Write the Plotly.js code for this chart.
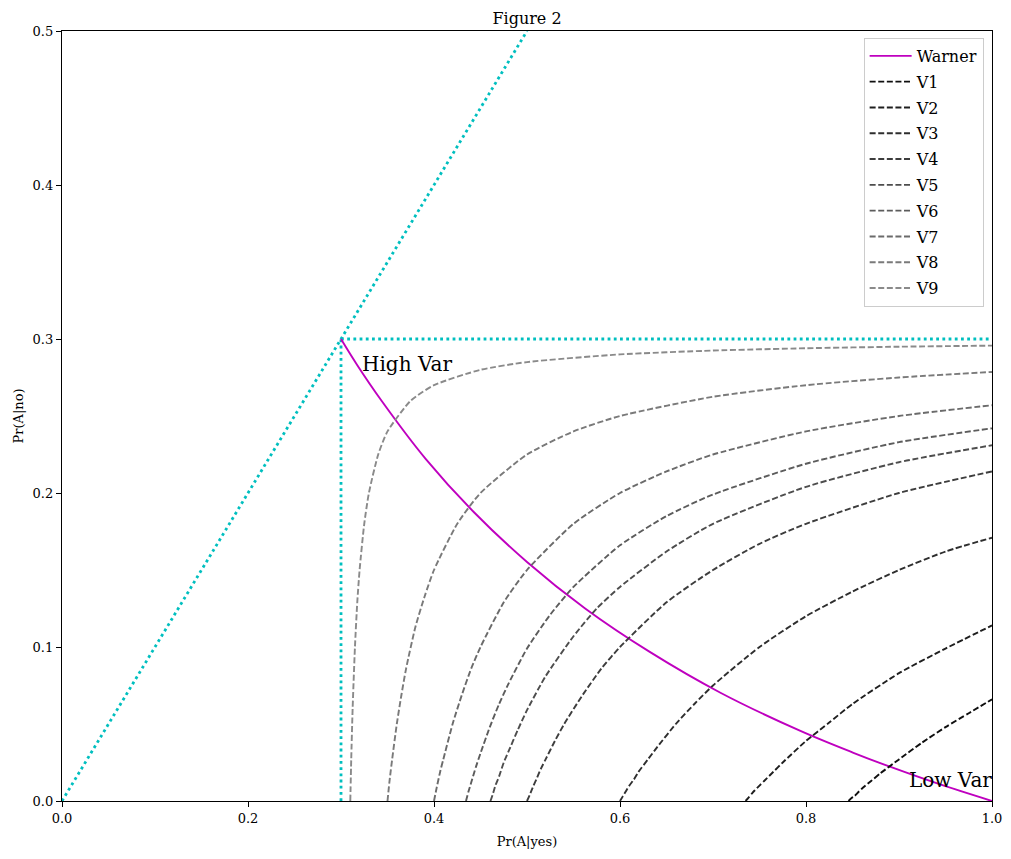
<!DOCTYPE html>
<html>
<head>
<meta charset="utf-8">
<script src="https://cdn.plot.ly/plotly-3.0.1.min.js"></script>
<style>html,body{margin:0;padding:0;background:#fff;}#chart{width:1011px;height:859px;}</style>
</head>
<body>
<div id="chart"></div>
<script>
// ---- data ----
const warnerX = [0.300, 0.317, 0.344, 0.391, 0.443, 0.500, 0.5625, 0.632, 0.708, 0.794, 0.851, 0.891, 0.9435, 1.000];
const warnerY = [0.300, 0.2835, 0.2596, 0.2222, 0.1875, 0.1552, 0.125, 0.0968, 0.0703, 0.0455, 0.0313, 0.0221, 0.0109, 0.000];

const v9X = [0.310, 0.311, 0.3125, 0.315, 0.3175, 0.320, 0.325, 0.330, 0.340, 0.350, 0.375, 0.400, 0.450, 0.500, 0.600, 0.700, 0.800, 0.900, 1.000];
const v9Y = [0.000, 0.027, 0.060, 0.100, 0.129, 0.150, 0.180, 0.200, 0.225, 0.240, 0.260, 0.270, 0.280, 0.285, 0.290, 0.2925, 0.294, 0.295, 0.2957];

const v8X = [0.350, 0.352, 0.355, 0.360, 0.365, 0.370, 0.380, 0.390, 0.400, 0.425, 0.450, 0.500, 0.550, 0.600, 0.700, 0.800, 0.900, 1.000];
const v8Y = [0.000, 0.012, 0.027, 0.050, 0.069, 0.086, 0.113, 0.133, 0.150, 0.180, 0.200, 0.225, 0.240, 0.250, 0.2625, 0.270, 0.275, 0.2786];

const v7X = [0.400, 0.403, 0.407, 0.410, 0.420, 0.430, 0.440, 0.450, 0.475, 0.500, 0.550, 0.600, 0.650, 0.700, 0.800, 0.900, 1.000];
const v7Y = [0.000, 0.009, 0.020, 0.027, 0.050, 0.069, 0.086, 0.100, 0.129, 0.150, 0.180, 0.200, 0.214, 0.225, 0.240, 0.250, 0.257];

const v6X = [0.4344, 0.437, 0.440, 0.445, 0.450, 0.460, 0.470, 0.480, 0.500, 0.525, 0.550, 0.600, 0.650, 0.700, 0.800, 0.900, 1.000];
const v6Y = [0.000, 0.006, 0.012, 0.022, 0.031, 0.048, 0.063, 0.076, 0.099, 0.121, 0.139, 0.166, 0.185, 0.199, 0.219, 0.233, 0.242];

const v5X = [0.4607, 0.463, 0.466, 0.470, 0.475, 0.480, 0.490, 0.500, 0.520, 0.550, 0.575, 0.600, 0.650, 0.700, 0.800, 0.900, 1.000];
const v5Y = [0.000, 0.004, 0.010, 0.016, 0.025, 0.032, 0.046, 0.059, 0.081, 0.107, 0.125, 0.139, 0.162, 0.180, 0.204, 0.220, 0.231];

const v4X = [0.500, 0.503, 0.507, 0.510, 0.515, 0.520, 0.530, 0.540, 0.560, 0.580, 0.600, 0.650, 0.700, 0.750, 0.800, 0.900, 1.000];
const v4Y = [0.000, 0.004, 0.010, 0.014, 0.021, 0.027, 0.039, 0.050, 0.069, 0.086, 0.100, 0.129, 0.150, 0.167, 0.180, 0.200, 0.214];

const v3X = [0.600, 0.603, 0.607, 0.610, 0.615, 0.620, 0.630, 0.640, 0.660, 0.680, 0.700, 0.750, 0.800, 0.850, 0.900, 0.950, 1.000];
const v3Y = [0.000, 0.003, 0.007, 0.010, 0.014, 0.019, 0.027, 0.035, 0.050, 0.063, 0.075, 0.100, 0.120, 0.136, 0.150, 0.162, 0.171];

const v2X = [0.735, 0.738, 0.742, 0.745, 0.750, 0.755, 0.765, 0.775, 0.800, 0.825, 0.850, 0.900, 0.950, 1.000];
const v2Y = [0.000, 0.002, 0.005, 0.007, 0.010, 0.013, 0.019, 0.025, 0.039, 0.051, 0.063, 0.083, 0.099, 0.114];

const v1X = [0.8457, 0.849, 0.852, 0.855, 0.860, 0.870, 0.880, 0.900, 0.925, 0.950, 0.975, 1.000];
const v1Y = [0.000, 0.002, 0.003, 0.005, 0.008, 0.013, 0.018, 0.027, 0.038, 0.048, 0.057, 0.066];

// reference guide lines
const diagX = [0.0, 0.5];
const diagY = [0.0, 0.5];
const horizX = [0.3, 1.0];
const horizY = [0.3, 0.3];
const vertX = [0.3, 0.3];
const vertY = [0.0, 0.3];

const seriesNames = ['V1','V2','V3','V4','V5','V6','V7','V8','V9'];
const seriesX = [v1X, v2X, v3X, v4X, v5X, v6X, v7X, v8X, v9X];
const seriesY = [v1Y, v2Y, v3Y, v4Y, v5Y, v6Y, v7Y, v8Y, v9Y];
const xTicks = [0.0, 0.2, 0.4, 0.6, 0.8, 1.0];
const yTicks = [0.0, 0.1, 0.2, 0.3, 0.4, 0.5];

// ---- styles ----
const FONT = 'DejaVu Serif, Liberation Serif, serif';
const grays = ['#0f0f0f','#1f1f1f','#2e2e2e','#3d3d3d','#4d4d4d','#5c5c5c','#6b6b6b','#7a7a7a','#8a8a8a'];
const CYAN = '#00bfbf';

const traces = [];
const guide = (x, y) => ({x: x, y: y, type: 'scatter', mode: 'lines', showlegend: false, hoverinfo: 'skip',
  line: {color: CYAN, width: 2.8, dash: '2.8px,3.4px'}});
traces.push(guide(diagX, diagY));
traces.push(guide(horizX, horizY));
traces.push(guide(vertX, vertY));

traces.push({x: warnerX, y: warnerY, type: 'scatter', mode: 'lines', name: 'Warner', legendgroup: 'w',
  line: {color: '#bf00bf', width: 1.9, shape: 'spline', smoothing: 1}});

for (let i = 0; i < seriesNames.length; i++) {
  traces.push({x: seriesX[i], y: seriesY[i], type: 'scatter', mode: 'lines', name: seriesNames[i],
    legendgroup: 'g' + i,
    line: {color: grays[i], width: 1.9, dash: '6px,2.6px', shape: 'spline', smoothing: 0.6}});
}

const layout = {
  width: 1011, height: 859,
  margin: {l: 62, r: 19, t: 31, b: 58},
  paper_bgcolor: '#ffffff', plot_bgcolor: '#ffffff',
  font: {family: FONT, color: '#000', size: 13},
  title: {text: 'Figure 2', x: 0.5, xref: 'paper', y: 1, yref: 'paper', yanchor: 'bottom', pad: {b: 7},
    font: {family: FONT, size: 16, color: '#000'}},
  xaxis: {range: [0, 1], tickvals: xTicks, tickformat: '.1f', ticks: 'outside', ticklen: 5, tickwidth: 1,
    tickcolor: '#000', showgrid: false, zeroline: false, showline: true, linecolor: '#000', linewidth: 1.2,
    mirror: true, tickfont: {family: FONT, size: 13},
    title: {text: 'Pr(A|yes)', standoff: 12, font: {family: FONT, size: 13}}},
  yaxis: {range: [0, 0.5], tickvals: yTicks, tickformat: '.1f', ticks: 'outside', ticklen: 5, tickwidth: 1,
    tickcolor: '#000', showgrid: false, zeroline: false, showline: true, linecolor: '#000', linewidth: 1.2,
    mirror: true, tickfont: {family: FONT, size: 13},
    title: {text: 'Pr(A|no)', standoff: 6, font: {family: FONT, size: 13}}},
  legend: {x: 0.991, xanchor: 'right', y: 0.991, yanchor: 'top', bgcolor: 'rgba(255,255,255,0.85)',
    bordercolor: '#cccccc', borderwidth: 1, font: {family: FONT, size: 16, color: '#000'},
    tracegroupgap: 2, traceorder: 'grouped', itemwidth: 42},
  annotations: [
    {x: 0.3204, y: 0.2838, xref: 'x', yref: 'y', text: 'High Var', showarrow: false, xanchor: 'left', yanchor: 'middle',
      font: {family: FONT, size: 20, color: '#000'}},
    {x: 0.909, y: 0.0136, xref: 'x', yref: 'y', text: 'Low Var', showarrow: false, xanchor: 'left', yanchor: 'middle',
      font: {family: FONT, size: 20, color: '#000'}}
  ],
  showlegend: true
};

Plotly.newPlot('chart', traces, layout, {displayModeBar: false, staticPlot: true});
</script>
</body>
</html>
